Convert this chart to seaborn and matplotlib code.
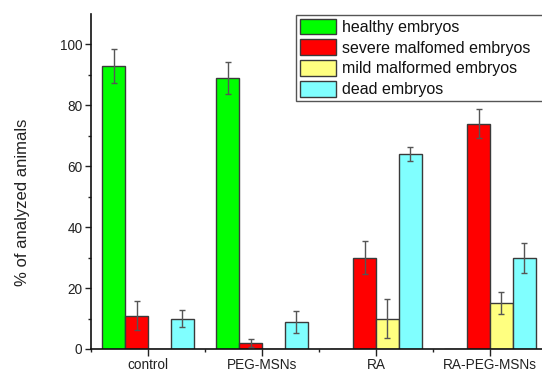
import numpy as np
import pandas as pd
import matplotlib
matplotlib.use("Agg")
import matplotlib.pyplot as plt
from matplotlib.ticker import FixedLocator
from matplotlib.patches import Rectangle
import seaborn as sns

groups = ["control", "PEG-MSNs", "RA", "RA-PEG-MSNs"]
series = ["healthy embryos", "severe malfomed embryos", "mild malformed embryos", "dead embryos"]
healthy = [93, 89, 0, 0]
healthy_err = [5.6, 5.4, 0, 0]
severe = [11, 2, 30, 74]
severe_err = [4.8, 1.3, 5.3, 4.8]
mild = [0, 0, 10, 15]
mild_err = [0, 0, 6.4, 3.6]
dead = [10, 9, 64, 30]
dead_err = [2.7, 3.6, 2.2, 4.9]
colors = ["#00FF00", "#FF0000", "#FFFF80", "#80FFFF"]

values = [healthy, severe, mild, dead]
errors = [healthy_err, severe_err, mild_err, dead_err]

rows = []
for s, vals in zip(series, values):
    for g, v in zip(groups, vals):
        rows.append({"group": g, "series": s, "value": v})
df = pd.DataFrame(rows)

sns.set_style("ticks")
plt.rcParams["font.family"] = ["Liberation Sans", "DejaVu Sans"]

W, H = 542, 372
fig = plt.figure(figsize=(W / 100, H / 100), dpi=100)
ax = fig.add_axes([91 / W, 23 / H, 456 / W, 335 / H])

sns.barplot(data=df, x="group", y="value", hue="series", order=groups,
            hue_order=series, palette=colors, saturation=1, width=0.8,
            edgecolor="#3a3a3a", linewidth=1.0, errorbar=None, ax=ax)

for cont, errs in zip(ax.containers, errors):
    xs, ys, es = [], [], []
    for bar, e in zip(cont, errs):
        if e > 0:
            xs.append(bar.get_x() + bar.get_width() / 2)
            ys.append(bar.get_height())
            es.append(e)
    if xs:
        ax.errorbar(xs, ys, yerr=es, fmt="none", ecolor="#555555",
                    elinewidth=1.0, capsize=2.4, capthick=1.0, zorder=5)

ax.set_xlim(-0.5, 3.5)
ax.set_ylim(0, 110)
ax.yaxis.set_major_locator(FixedLocator([0, 20, 40, 60, 80, 100]))
ax.yaxis.set_minor_locator(FixedLocator([10, 30, 50, 70, 90]))
ax.xaxis.set_minor_locator(FixedLocator([-0.5, 0.5, 1.5, 2.5, 3.5]))
ax.tick_params(axis="both", which="major", length=4.3, width=1.0, direction="out",
               labelsize=9.8, color="#222222", labelcolor="#222222", pad=2)
ax.tick_params(axis="both", which="minor", length=2.3, width=1.0, direction="out",
               color="#222222")
ax.tick_params(axis="x", which="major", length=5, pad=1.5)
for side in ["top", "right"]:
    ax.spines[side].set_visible(False)
for side in ["left", "bottom"]:
    ax.spines[side].set_linewidth(1.2)
    ax.spines[side].set_color("#111111")
ax.set_xlabel("")
ax.set_ylabel("% of analyzed animals", fontsize=12, color="#222222")
ax.yaxis.set_label_coords((30 - 91) / 456, (349 - 202) / 335)

handles, labels = ax.get_legend_handles_labels()
leg = ax.legend(handles, labels, loc="upper left",
                bbox_to_anchor=(296 / W, 1 - 15 / H),
                bbox_transform=fig.transFigure,
                fontsize=11.5, frameon=False,
                borderpad=0.22, labelspacing=0.3, handlelength=2.3, handleheight=1.1,
                handletextpad=0.35, borderaxespad=0)
for t in leg.get_texts():
    t.set_color("#111111")

fig.canvas.draw()
bb = leg.get_window_extent()
frame = Rectangle((bb.x0, bb.y0), W + 10 - bb.x0, bb.height, transform=None,
                  facecolor="white", edgecolor="#555555", linewidth=1.0,
                  zorder=4)
ax.add_artist(frame)
frame.set_clip_on(False)
leg.set_zorder(6)

fig.savefig("out.png", dpi=100)
